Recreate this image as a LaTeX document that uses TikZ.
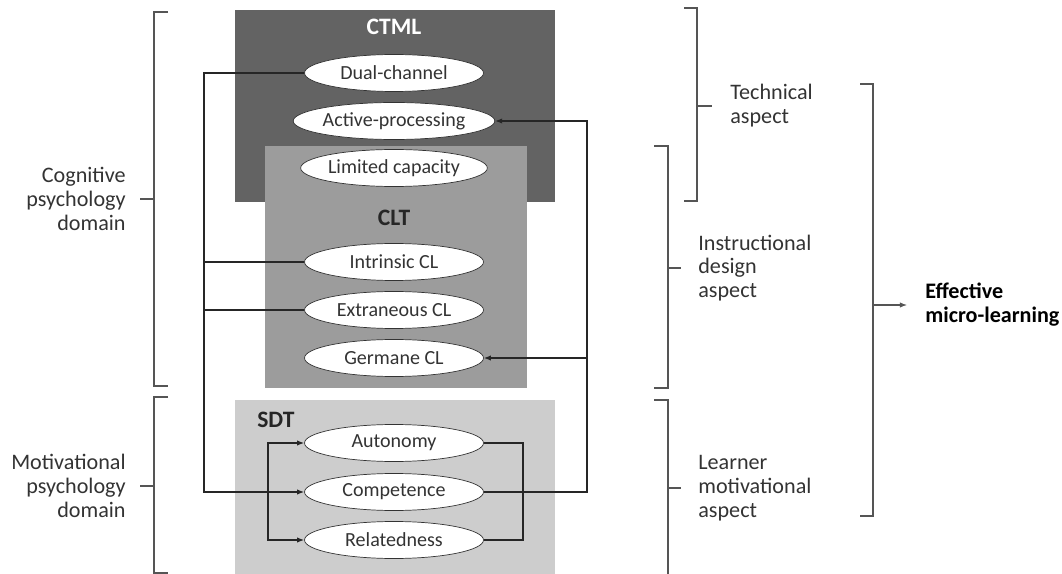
\documentclass[tikz,border=0pt]{standalone}
\usepackage{fontspec}
\setmainfont{Carlito}
\usetikzlibrary{shapes.geometric,arrows.meta}
\definecolor{ctmlgray}{HTML}{636363}
\definecolor{cltgray}{HTML}{9C9C9C}
\definecolor{sdtgray}{HTML}{CDCDCD}
\definecolor{brkgray}{HTML}{555555}
\tikzset{
  txt/.style={font=\fontsize{11.4}{13.6}\selectfont, text=black!80},
  side/.style={font=\fontsize{12.6}{13.6}\selectfont, text=black!80},
  head/.style={font=\fontsize{13.4}{15}\selectfont\bfseries},
  oval/.style={ellipse, draw=black!80, fill=white, minimum width=3.58cm,
    minimum height=0.74cm, inner sep=0pt, txt},
  brk/.style={draw=brkgray, line width=0.7pt},
  conn/.style={draw=black!85, line width=0.6pt},
  arr/.style={conn, -{Latex[length=4pt,width=3pt]}}
}
\begin{document}
\begin{tikzpicture}[x=0.02cm, y=-0.02cm]
  \useasboundingbox (0,0) rectangle (1062,574);
  % theory boxes
  \fill [ctmlgray] (235,10) rectangle (555,202);
  \fill [cltgray] (265,146) rectangle (527,388);
  \fill [sdtgray] (235,400) rectangle (555,574);
  \node [head, text=white] (ctml) at (394,27) {CTML};
  \node [head, text=black!85] (clt) at (394,218) {CLT};
  \node [head, text=black!85] (sdt) at (276,420) {SDT};
  % principles
  \node [oval] (dual) at (394,73) {Dual-channel};
  \node [oval] (active) at (394,121) {Active-processing};
  \node [oval] (limited) at (394,168) {Limited capacity};
  \node [oval] (intrinsic) at (394,262) {Intrinsic CL};
  \node [oval] (extraneous) at (394,310) {Extraneous CL};
  \node [oval] (germane) at (394,358) {Germane CL};
  \node [oval] (autonomy) at (394,443) {Autonomy};
  \node [oval] (competence) at (394,492) {Competence};
  \node [oval] (relatedness) at (394,540) {Relatedness};
  % connectors
  \coordinate (lx) at (204,0);
  \coordinate (rx) at (587,0);
  \draw [arr] (dual.west) -- (dual.west -| lx) -- (competence.west -| lx) -- (competence.west);
  \draw [conn] (intrinsic.west) -- (intrinsic.west -| lx);
  \draw [conn] (extraneous.west) -- (extraneous.west -| lx);
  \draw [arr] (competence.east) -- (competence.east -| rx) -- (active.east -| rx) -- (active.east);
  \draw [arr] (germane.east -| rx) -- (germane.east);
  \coordinate (sl) at (268,0);
  \coordinate (sr) at (523,0);
  \draw [arr] (relatedness.west -| sl) -- (autonomy.west -| sl) -- (autonomy.west);
  \draw [arr] (autonomy.west -| sl) -- (relatedness.west -| sl) -- (relatedness.west);
  \draw [conn] (autonomy.east) -- (autonomy.east -| sr) -- (relatedness.east -| sr) -- (relatedness.east);
  % left brackets
  \node [side, align=right, anchor=east, inner xsep=0.28cm] (cogn) at (140,199) {Cognitive\\psychology\\domain};
  \node [side, align=right, anchor=east, inner xsep=0.28cm] (motiv) at (140,486) {Motivational\\psychology\\domain};
  \draw [brk] (168,12) -- (154,12) -- (154,386) -- (168,386);
  \draw [brk] (154,199) -- (cogn.east);
  \draw [brk] (168,397) -- (154,397) -- (154,573) -- (168,573);
  \draw [brk] (154,486) -- (motiv.east);
  % right brackets
  \node [side, align=left, anchor=west, inner xsep=0.36cm] (tech) at (712,106) {Technical\\aspect};
  \node [side, align=left, anchor=west, inner xsep=0.34cm] (instr) at (681,268) {Instructional\\design\\aspect};
  \node [side, align=left, anchor=west, inner xsep=0.34cm] (learner) at (681,488) {Learner\\motivational\\aspect};
  \node [side, align=left, anchor=west, inner xsep=0.36cm, font=\fontsize{12.6}{13.6}\selectfont\bfseries, text=black] (eff) at (907,305) {Effective\\micro-learning};
  \draw [brk] (684,8) -- (697,8) -- (697,201) -- (684,201);
  \draw [brk] (697,106) -- (tech.west);
  \draw [brk] (654,146) -- (668,146) -- (668,388) -- (654,388);
  \draw [brk] (668,268) -- (instr.west);
  \draw [brk] (654,400) -- (668,400) -- (668,574);
  \draw [brk] (668,488) -- (learner.west);
  \draw [brk] (860,84) -- (873,84) -- (873,516) -- (860,516);
  \draw [arr, draw=brkgray] (873,305) -- (eff.west);
\end{tikzpicture}
\end{document}
